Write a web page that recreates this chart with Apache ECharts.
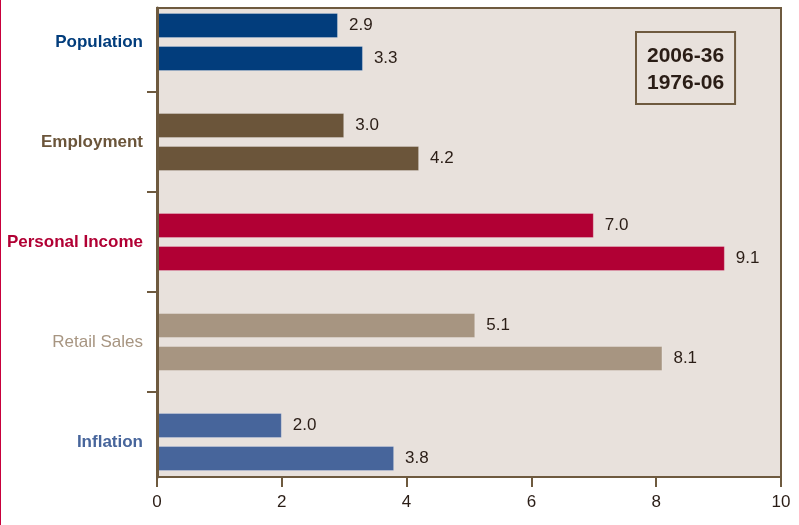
<!DOCTYPE html>
<html>
<head>
<meta charset="utf-8">
<script src="https://cdn.jsdelivr.net/npm/echarts@6/dist/echarts.min.js"></script>
<style>
html,body{margin:0;padding:0;background:#fff;}
#wrap{position:relative;width:799px;height:525px;}
#edge{position:absolute;left:0;top:0;width:1px;height:525px;background:#c8003c;}
#main{position:absolute;left:0;top:0;width:799px;height:525px;}
</style>
</head>
<body>
<div id="wrap"><div id="main"></div><div id="edge"></div></div>
<script>
const categories = ['Population', 'Employment', 'Personal Income', 'Retail Sales', 'Inflation'];
const categoryColors = ['#023d7c', '#6b553a', '#b10034', '#a79581', '#47659b'];
const seriesNames = ['2006-36', '1976-06'];
const values2006_36 = [2.9, 3.0, 7.0, 5.1, 2.0];
const values1976_06 = [3.3, 4.2, 9.1, 8.1, 3.8];
const xTicks = [0, 2, 4, 6, 8, 10];

const FONT = "'Liberation Sans', Arial, sans-serif";
const BROWN = '#6e5a3f';
const BG = '#e8e1dc';
const TEXT = '#2a1d16';

const rich = {};
categories.forEach((c, i) => {
  rich['c' + i] = {
    color: categoryColors[i],
    fontFamily: FONT,
    fontSize: 17,
    fontWeight: c === 'Retail Sales' ? 'normal' : 'bold'
  };
});

function barData(vals) {
  return vals.map((v, i) => ({ value: v, itemStyle: { color: categoryColors[i] } }));
}

const chart = echarts.init(document.getElementById('main'), null, { renderer: 'canvas' });
chart.setOption({
  animation: false,
  backgroundColor: '#fff',
  textStyle: { fontFamily: FONT },
  grid: [
    { left: 157, right: 18, top: 8, bottom: 48, show: true, backgroundColor: BG, borderColor: BROWN, borderWidth: 2, z: 0, outerBoundsMode: 'none', containLabel: false },
    { left: 157, right: 18, top: -8, height: 500, show: false, outerBoundsMode: 'none', containLabel: false },
    { left: 147, width: 10, top: 92, height: 300, show: false, outerBoundsMode: 'none', containLabel: false }
  ],
  legend: {
    data: seriesNames,
    orient: 'vertical',
    left: 636,
    top: 32,
    icon: 'none',
    itemWidth: 0,
    itemHeight: 0,
    itemGap: 6,
    padding: [14, 11, 10, 6],
    borderColor: BROWN,
    borderWidth: 2,
    backgroundColor: BG,
    selectedMode: false,
    textStyle: { color: TEXT, fontFamily: FONT, fontWeight: 'bold', fontSize: 21 }
  },
  xAxis: [
    {
      gridIndex: 0, type: 'value', min: 0, max: 10, interval: 2, z: 5,
      axisLine: { show: true, lineStyle: { color: BROWN, width: 2 } },
      axisTick: { show: true, length: 10, lineStyle: { color: BROWN, width: 2 } },
      axisLabel: { show: true, color: TEXT, fontFamily: FONT, fontSize: 17, margin: 17,
        customValues: xTicks },
      splitLine: { show: false }
    },
    { gridIndex: 1, type: 'value', min: 0, max: 10, show: false },
    { gridIndex: 2, type: 'value', min: 0, max: 1, show: false }
  ],
  yAxis: [
    {
      gridIndex: 0, type: 'value', min: 0, max: 1, z: 5,
      axisLine: { show: true, lineStyle: { color: BROWN, width: 3 } },
      axisTick: { show: false }, axisLabel: { show: false }, splitLine: { show: false }
    },
    {
      gridIndex: 1, type: 'category', inverse: true, data: categories,
      axisLine: { show: false }, axisTick: { show: false },
      axisLabel: {
        margin: 14,
        formatter: (v, i) => '{c' + i + '|' + v + '}',
        rich: rich
      }
    },
    {
      gridIndex: 2, type: 'value', min: 0, max: 3, interval: 1, inverse: true,
      axisLine: { show: false }, axisTick: { show: false }, axisLabel: { show: false },
      splitLine: { show: true, lineStyle: { color: BROWN, width: 2 } }
    }
  ],
  series: [
    {
      name: seriesNames[0], type: 'bar', xAxisIndex: 1, yAxisIndex: 1,
      data: barData(values2006_36), barWidth: 25, barGap: '32%',
      itemStyle: { borderColor: 'rgba(255,255,255,0.25)', borderWidth: 1 },
      label: { show: true, position: 'right', distance: 11, color: TEXT, fontFamily: FONT, fontSize: 17,
        formatter: p => p.value.toFixed(1) }
    },
    {
      name: seriesNames[1], type: 'bar', xAxisIndex: 1, yAxisIndex: 1,
      data: barData(values1976_06), barWidth: 25, barGap: '32%',
      itemStyle: { borderColor: 'rgba(255,255,255,0.25)', borderWidth: 1 },
      label: { show: true, position: 'right', distance: 11, color: TEXT, fontFamily: FONT, fontSize: 17,
        formatter: p => p.value.toFixed(1) }
    }
  ]
});
</script>
</body>
</html>
